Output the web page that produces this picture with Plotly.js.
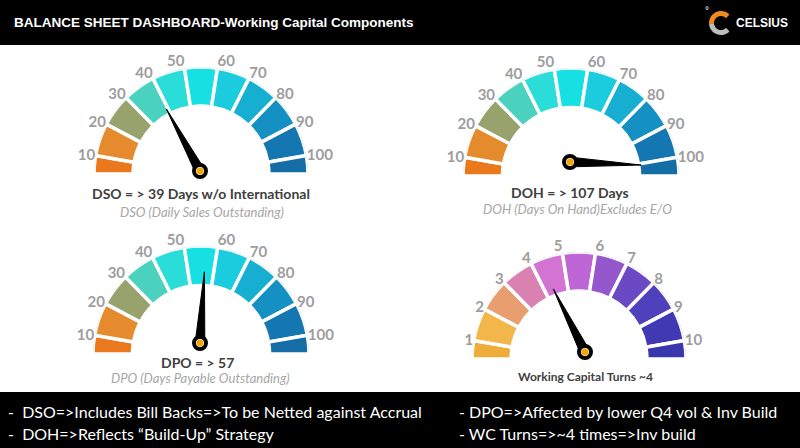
<!DOCTYPE html>
<html><head><meta charset="utf-8">
<script src="https://cdn.plot.ly/plotly-3.0.1.min.js"></script>
<style>html,body{margin:0;padding:0;background:#fff}#chart{width:800px;height:448px}</style>
</head><body><div id="chart"></div>
<script>
// ---------- data ----------
const daysTicks = [10, 20, 30, 40, 50, 60, 70, 80, 90, 100];
const turnsTicks = [1, 2, 3, 4, 5, 6, 7, 8, 9, 10];
const dsoValue = 39;
const dohValue = 107;
const dpoValue = 57;
const wcTurnsValue = 4;
const daysColors = ['#E9791C', '#E68A2E', '#98A26C', '#4BD2BF', '#2BDDD8', '#16E0E2', '#1ACCDD', '#17AFD1', '#1590C2', '#1577B1', '#146DA5'];
const turnsColors = ['#EFAC3A', '#F2B64A', '#E99E70', '#D982B2', '#D373D2', '#BF66D6', '#9557CC', '#6B49C4', '#4F41BB', '#4039B3', '#3A37AD'];
const gaugeTitles = ['DSO = > 39 Days w/o International', 'DOH = > 107 Days', 'DPO = > 57', 'Working Capital Turns ~4'];
const gaugeSubtitles = ['DSO (Daily Sales Outstanding)', 'DOH (Days On Hand)Excludes E/O', 'DPO (Days Payable Outstanding)', ''];
const headerTitle = 'BALANCE SHEET DASHBOARD-Working Capital Components';
const footerLeft = ['-  DSO=>Includes Bill Backs=>To be Netted against Accrual', '-  DOH=>Reflects \u201cBuild-Up\u201d Strategy'];
const footerRight = ['- DPO=>Affected by lower Q4 vol & Inv Build', '- WC Turns=>~4 times=>Inv build'];

// ---------- layout helpers ----------
const W = 800, H = 448;
const fx = x => x / W;
const fy = y => 1 - y / H;
const INNER = 0.635, NEEDLE = 0.66, NEEDLE_BASE = 0.045;
const SECTOR = [-40, 220];
const LOW = Math.sin(40 * Math.PI / 180);

const gauges = [
  {ticks: daysTicks, value: dsoValue, colors: daysColors, cx: 201, cy: 174, R: 107, px: 200, py: 171,
   title: gaugeTitles[0], sub: gaugeSubtitles[0], tx: 201, ty: 193, sx: 202, sy: 212, tsize: 14},
  {ticks: daysTicks, value: dohValue, colors: daysColors, cx: 571, cy: 176, R: 108, px: 570, py: 162,
   title: gaugeTitles[1], sub: gaugeSubtitles[1], tx: 570, ty: 192, sx: 577, sy: 209, tsize: 14},
  {ticks: daysTicks, value: dpoValue, colors: daysColors, cx: 201, cy: 354, R: 108, px: 200, py: 343,
   title: gaugeTitles[2], sub: gaugeSubtitles[2], tx: 197, ty: 362, sx: 200, sy: 378, tsize: 14},
  {ticks: turnsTicks, value: wcTurnsValue, colors: turnsColors, cx: 579, cy: 359, R: 107, px: 585, py: 352,
   title: gaugeTitles[3], sub: gaugeSubtitles[3], tx: 585, ty: 376, sx: 585, sy: 392, tsize: 12}
];

function gaugeRange(ticks) {
  const per = (ticks[ticks.length - 1] - ticks[0]) / 160;
  return [ticks[0] - 10 * per, ticks[ticks.length - 1] + 10 * per];
}
function toTheta(v, rng) { return (v - rng[0]) / (rng[1] - rng[0]) * 180; }
function domainFor(cx, cy, R) {
  return {x: [fx(cx - R), fx(cx + R)], y: [fy(cy + LOW * R), fy(cy - R)]};
}

const traces = [];
const layout = {
  width: W, height: H, margin: {l: 0, r: 0, t: 0, b: 0},
  paper_bgcolor: '#ffffff', plot_bgcolor: '#ffffff', showlegend: false, hovermode: false,
  shapes: [], annotations: []
};

gauges.forEach((g, i) => {
  const pid = i === 0 ? 'polar' : 'polar' + (i + 1);
  const nid = 'polar' + (i + 5);
  const rng = gaugeRange(g.ticks);
  const bounds = [rng[0]].concat(g.ticks, [rng[1]]);
  const th = [], wd = [];
  for (let k = 0; k < bounds.length - 1; k++) {
    const a = toTheta(bounds[k], rng), b = toTheta(bounds[k + 1], rng);
    th.push((a + b) / 2); wd.push(b - a);
  }
  traces.push({type: 'barpolar', subplot: pid, theta: th, width: wd,
    r: th.map(() => 1 - INNER), base: th.map(() => INNER),
    marker: {color: g.colors, line: {color: '#ffffff', width: 3.5}}, hoverinfo: 'skip'});
  const t = toTheta(g.value, rng);
  traces.push({type: 'scatterpolar', subplot: nid, mode: 'lines', fill: 'toself',
    r: [NEEDLE_BASE, NEEDLE, NEEDLE_BASE, NEEDLE_BASE], theta: [t - 90, t, t + 90, t - 90],
    line: {color: '#000000', width: 1}, fillcolor: '#000000', hoverinfo: 'skip'});
  traces.push({type: 'scatterpolar', subplot: nid, mode: 'markers', r: [0], theta: [0], cliponaxis: false,
    marker: {size: 12, color: '#ffffff', line: {color: '#000000', width: 4}}, hoverinfo: 'skip'});
  traces.push({type: 'scatterpolar', subplot: nid, mode: 'markers', r: [0], theta: [0], cliponaxis: false,
    marker: {size: 7, color: '#F5A700', line: {width: 0}}, hoverinfo: 'skip'});

  layout[pid] = {
    domain: domainFor(g.cx, g.cy, g.R),
    sector: SECTOR, hole: 0, bgcolor: 'rgba(0,0,0,0)',
    radialaxis: {visible: false, range: [0, 1]},
    angularaxis: {rotation: 180, direction: 'clockwise', showline: false, showgrid: false, ticks: '',
      tickvals: g.ticks.map(v => toTheta(v, rng)), ticktext: g.ticks.map(String),
      tickfont: {family: 'Lato, Open Sans, sans-serif', size: 15, color: '#9d9d9d', weight: 'bold'}}
  };
  layout[nid] = {
    domain: domainFor(g.px, g.py, g.R),
    sector: SECTOR, hole: 0, bgcolor: 'rgba(0,0,0,0)',
    radialaxis: {visible: false, range: [0, 1]},
    angularaxis: {visible: false, rotation: 180, direction: 'clockwise'}
  };

  layout.annotations.push({xref: 'paper', yref: 'paper', x: fx(g.tx), y: fy(g.ty), xanchor: 'center', yanchor: 'middle',
    text: g.title, showarrow: false, font: {family: 'Lato, Open Sans, sans-serif', size: g.tsize, color: '#404040', weight: 'bold'}});
  if (g.sub) layout.annotations.push({xref: 'paper', yref: 'paper', x: fx(g.sx), y: fy(g.sy), xanchor: 'center', yanchor: 'middle',
    text: '<i>' + g.sub + '</i>', showarrow: false, font: {family: 'Lato, Open Sans, sans-serif', size: 13, color: '#a6a6a6'}});
});

// header & footer bars
layout.shapes.push({type: 'rect', xref: 'paper', yref: 'paper', x0: 0, x1: 1, y0: fy(45), y1: 1, fillcolor: '#000000', line: {width: 0}, layer: 'below'});
layout.shapes.push({type: 'rect', xref: 'paper', yref: 'paper', x0: 0, x1: 1, y0: 0, y1: fy(392), fillcolor: '#000000', line: {width: 0}, layer: 'below'});

// logo C mark (decorative)
function arcPath(cx, cy, r, a0, a1) {
  let s = '';
  for (let k = 0; k <= 24; k++) {
    const a = (a0 + (a1 - a0) * k / 24) * Math.PI / 180;
    const x = fx(cx + r * Math.cos(a)), y = fy(cy - r * Math.sin(a));
    s += (k === 0 ? 'M' : 'L') + x.toFixed(5) + ',' + y.toFixed(5);
  }
  return s;
}
layout.shapes.push({type: 'path', xref: 'paper', yref: 'paper', path: arcPath(721, 23, 9.5, 45, 185), line: {color: '#F08A1C', width: 5}});
layout.shapes.push({type: 'path', xref: 'paper', yref: 'paper', path: arcPath(721, 23, 9.5, 185, 315), line: {color: '#BDBDBD', width: 5}});

layout.annotations.push({xref: 'paper', yref: 'paper', x: fx(12), y: fy(22), xanchor: 'left', yanchor: 'middle', showarrow: false,
  text: headerTitle, font: {family: 'Liberation Sans, Arial, sans-serif', size: 13.5, color: '#ffffff', weight: 'bold'}});
layout.annotations.push({xref: 'paper', yref: 'paper', x: fx(734), y: fy(23), xanchor: 'left', yanchor: 'middle', showarrow: false,
  text: 'CELSIUS', font: {family: 'Liberation Sans, Arial, sans-serif', size: 12, color: '#ffffff', weight: 'bold'}});
layout.annotations.push({xref: 'paper', yref: 'paper', x: fx(707), y: fy(10), xanchor: 'center', yanchor: 'middle', showarrow: false,
  text: '\u00b0', font: {family: 'Liberation Sans, Arial, sans-serif', size: 10, color: '#ffffff'}});

footerLeft.forEach((t, k) => layout.annotations.push({xref: 'paper', yref: 'paper', x: fx(6), y: fy(411 + k * 22), xanchor: 'left', yanchor: 'middle', showarrow: false,
  text: t, font: {family: 'Lato, Open Sans, sans-serif', size: 16, color: '#ffffff'}}));
footerRight.forEach((t, k) => layout.annotations.push({xref: 'paper', yref: 'paper', x: fx(457), y: fy(411 + k * 22), xanchor: 'left', yanchor: 'middle', showarrow: false,
  text: t, font: {family: 'Lato, Open Sans, sans-serif', size: 16, color: '#ffffff'}}));

Plotly.newPlot('chart', traces, layout, {staticPlot: true, displayModeBar: false});
</script>
</body></html>
